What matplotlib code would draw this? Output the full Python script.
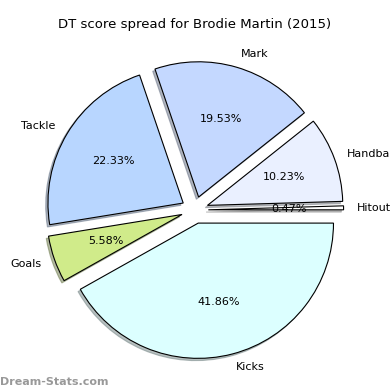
import matplotlib
matplotlib.use('Agg')
import matplotlib.pyplot as plt

# DT score breakdown (percent), counter-clockwise from 0 deg
labels = ['Hitout', 'Handball', 'Mark', 'Tackle', 'Goals', 'Kicks']
shares = [0.47, 10.23, 19.53, 22.33, 5.58, 41.86]
colors = ['#ffffff', '#eaf0ff', '#c4d8ff', '#b8d6ff', '#d0eb8a', '#dcffff']

fig = plt.figure(figsize=(3.9, 3.9), dpi=100)
ax = fig.add_axes([0.066, 0.028, 0.867, 0.867])

ax.pie(shares, labels=labels, colors=colors, explode=[0.1] * len(shares),
       autopct='%1.2f%%', startangle=0,
       shadow={'ox': -0.012, 'oy': -0.012, 'shade': 0.5},
       wedgeprops={'edgecolor': 'black', 'linewidth': 0.8},
       textprops={'fontsize': 8})
ax.set_aspect('equal')

fig.suptitle('DT score spread for Brodie Martin (2015)', fontsize=9.5, y=0.955)
fig.text(0.0, 0.012, 'Dream-Stats.com', fontsize=8, color='#999999',
         fontweight='bold')

fig.savefig('out.png', dpi=100)
